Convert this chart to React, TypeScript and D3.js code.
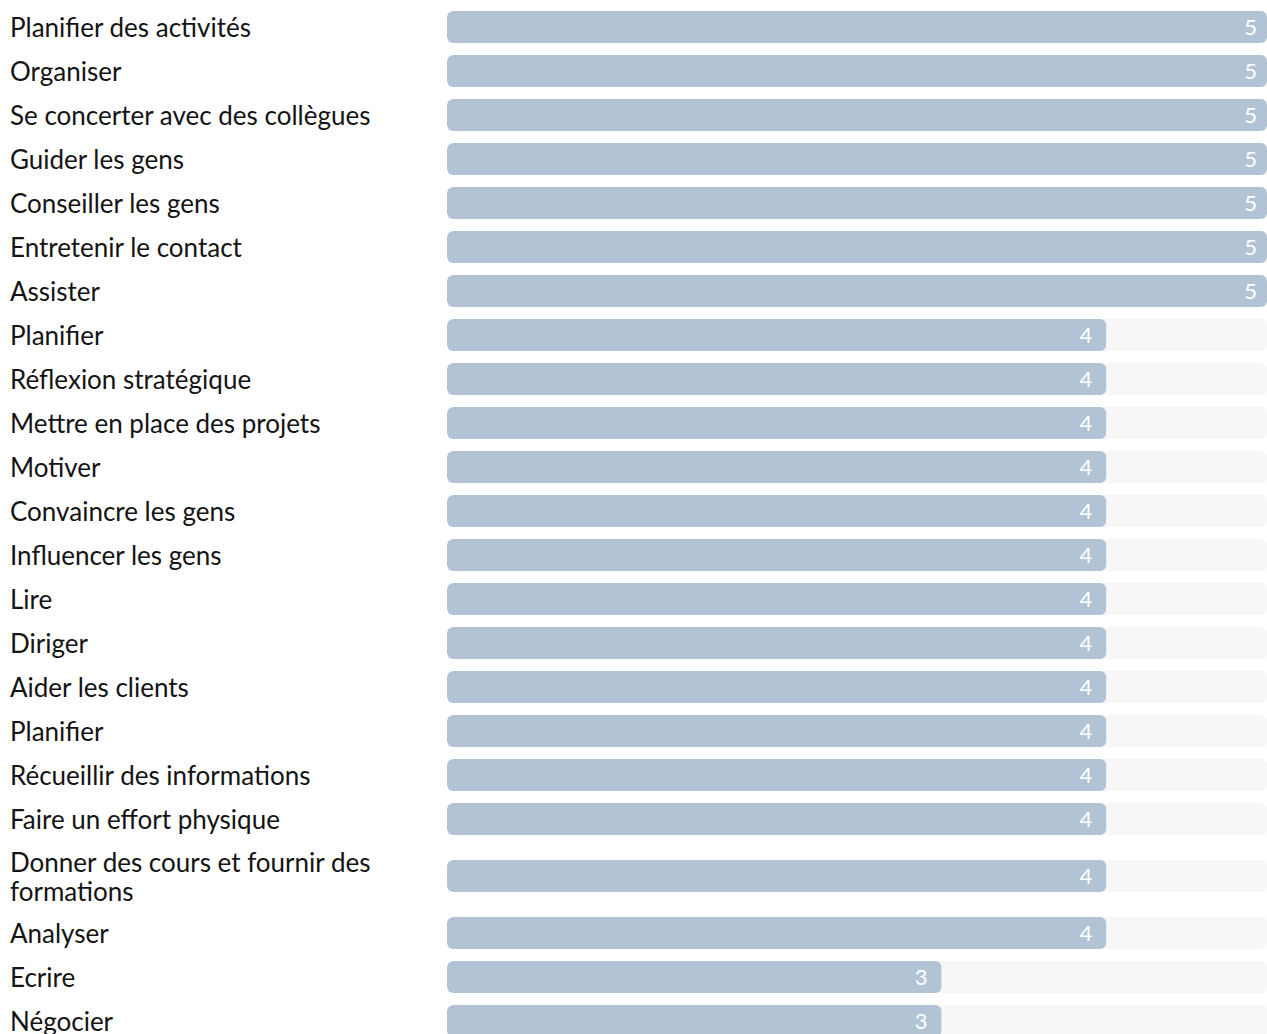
import React from "react";
import * as d3 from "d3";

const labels: string[] = [
  "Planifier des activités",
  "Organiser",
  "Se concerter avec des collègues",
  "Guider les gens",
  "Conseiller les gens",
  "Entretenir le contact",
  "Assister",
  "Planifier",
  "Réflexion stratégique",
  "Mettre en place des projets",
  "Motiver",
  "Convaincre les gens",
  "Influencer les gens",
  "Lire",
  "Diriger",
  "Aider les clients",
  "Planifier",
  "Récueillir des informations",
  "Faire un effort physique",
  "Donner des cours et fournir des formations",
  "Analyser",
  "Ecrire",
  "Négocier",
];

const values: number[] = [5, 5, 5, 5, 5, 5, 5, 4, 4, 4, 4, 4, 4, 4, 4, 4, 4, 4, 4, 4, 4, 3, 3];

const maxValue = 5;

const W = 1267;
const H = 1034;
const labelX = 10;
const labelMaxWidth = 420;
const trackX = 447;
const trackW = 820;
const scaleW = 824;
const barH = 32;
const baseRow = 44;
const extraLine = 26;
const lineSpacing = 29;
const fontSize = 26;
const font = "Lato, 'Open Sans', sans-serif";

function wrap(text: string, maxW: number): string[] {
  const canvas = document.createElement("canvas");
  const ctx = canvas.getContext("2d");
  if (!ctx) return [text];
  ctx.font = `${fontSize}px Lato`;
  const words = text.split(" ");
  const lines: string[] = [];
  let cur = "";
  for (const w of words) {
    const t = cur ? cur + " " + w : w;
    if (ctx.measureText(t).width > maxW && cur) {
      lines.push(cur);
      cur = w;
    } else cur = t;
  }
  if (cur) lines.push(cur);
  return lines;
}

export default function App() {
  const x = d3.scaleLinear().domain([0, maxValue]).range([0, scaleW]);
  let top = 5;
  const rows = labels.map((l, i) => {
    const lines = wrap(l, labelMaxWidth);
    const h = baseRow + (lines.length - 1) * extraLine;
    const cy = top + h / 2;
    top += h;
    return { label: l, lines, value: values[i], cy };
  });

  return (
    <svg
      width={W}
      height={H}
      style={{ position: "absolute", left: 0, top: 0, display: "block" }}
      fontFamily={font}
    >
      <defs>
        {rows.map((r, i) => (
          <clipPath id={`clip-${i}`} key={i}>
            <rect x={trackX} y={r.cy - barH / 2} width={trackW} height={barH} rx={6} ry={6} />
          </clipPath>
        ))}
      </defs>
      {rows.map((r, i) => {
        const n = r.lines.length;
        const barEnd = trackX + x(r.value);
        return (
          <g key={i}>
            {r.lines.map((ln, j) => (
              <text
                key={j}
                x={labelX}
                y={r.cy + (j - (n - 1) / 2) * lineSpacing}
                dominantBaseline="central"
                fontSize={fontSize}
                fill="#141414"
              >
                {ln}
              </text>
            ))}
            <rect
              x={trackX}
              y={r.cy - barH / 2}
              width={trackW}
              height={barH}
              rx={6}
              ry={6}
              fill="#f7f7f7"
            />
            <g clipPath={`url(#clip-${i})`}>
              <rect
                x={trackX}
                y={r.cy - barH / 2}
                width={x(r.value)}
                height={barH}
                rx={6}
                ry={6}
                fill="#b1c3d5"
              />
            </g>
            <text
              x={barEnd - 14}
              y={r.cy - 1}
              textAnchor="end"
              dominantBaseline="central"
              fontSize={22}
              fontWeight={400}
              fill="#ffffff"
            >
              {r.value}
            </text>
          </g>
        );
      })}
    </svg>
  );
}
